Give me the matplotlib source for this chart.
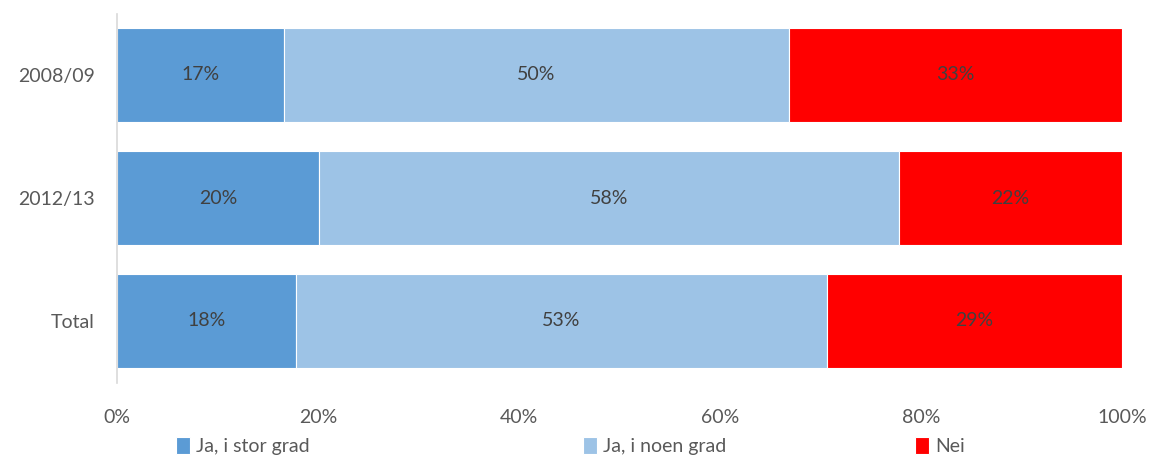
import matplotlib.pyplot as plt
import numpy as np

plt.rcParams['font.family'] = ['Lato', 'DejaVu Sans']

# Data
categories = ['2008/09', '2012/13', 'Total']
stor_grad = [16.6, 20.1, 17.8]
noen_grad = [50.3, 57.7, 52.8]
nei = [33.1, 22.2, 29.4]
series_names = ['Ja, i stor grad', 'Ja, i noen grad', 'Nei']
colors = ['#5b9bd5', '#9dc3e6', '#ff0000']

fig = plt.figure(figsize=(11.54, 4.55), dpi=100)
ax = fig.add_axes([117 / 1154, 1 - 382.5 / 455, 1005 / 1154, 369 / 455])

y = np.arange(len(categories))
left = np.zeros(len(categories))
bars = []
for vals, name, col in zip([stor_grad, noen_grad, nei], series_names, colors):
    b = ax.barh(y, vals, left=left, height=0.765, color=col, edgecolor='white',
                linewidth=0.8, label=name)
    for yi, l, v in zip(y, left, vals):
        ax.text(l + v / 2, yi, f'{round(v):.0f}%', ha='center', va='center',
                fontsize=14, color='#404040')
    bars.append(b)
    left = left + np.array(vals)

ax.set_ylim(2.5, -0.5)
ax.set_xlim(0, 100)
ax.set_yticks(y)
ax.set_yticklabels(categories)
ax.set_xticks(np.arange(0, 101, 20))
ax.set_xticklabels([f'{t}%' for t in range(0, 101, 20)])
ax.tick_params(axis='both', length=0, labelsize=14, labelcolor='#595959')
ax.tick_params(axis='x', pad=19)
ax.tick_params(axis='y', pad=16)
for s in ['top', 'right', 'bottom']:
    ax.spines[s].set_visible(False)
ax.spines['left'].set_color('#d9d9d9')
ax.spines['left'].set_linewidth(1.2)

# Legend entries placed along the bottom
xs = [166, 573, 905]
for b, name, x in zip(bars, series_names, xs):
    fig.legend([b], [name], loc='center left', bbox_to_anchor=(x / 1154, 1 - 446 / 455),
               frameon=False, fontsize=14, handlelength=0.75, handleheight=1.0,
               handletextpad=0.3, borderpad=0, labelcolor='#595959')

fig.savefig('out.png', dpi=100)
